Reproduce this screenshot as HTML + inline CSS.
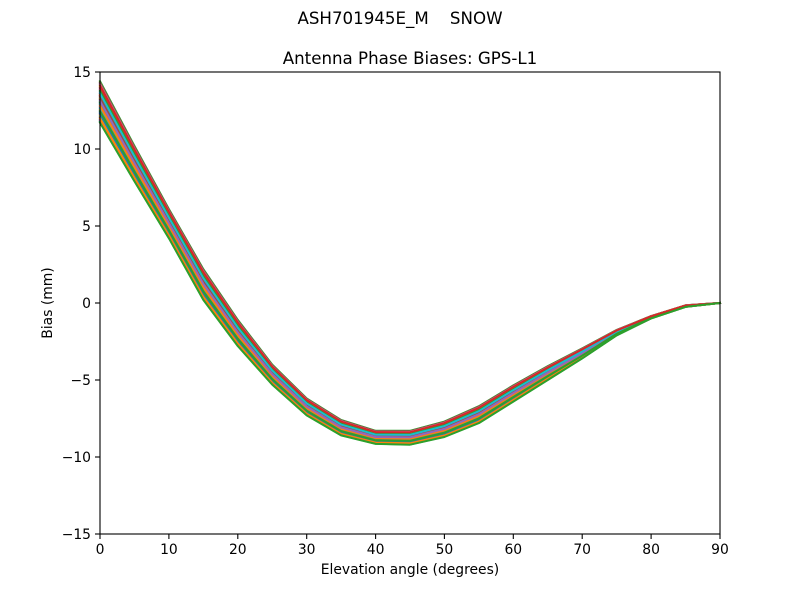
<!DOCTYPE html>
<html><head><meta charset="utf-8"><style>
html,body{margin:0;padding:0;background:#fff;}
svg{display:block;}
text{font-family:"DejaVu Sans","Liberation Sans",sans-serif;fill:#000;}
</style></head><body>
<svg id="s" width="800" height="600" viewBox="0 0 800 600" xmlns="http://www.w3.org/2000/svg">
<rect width="800" height="600" fill="#fff"/>
<text x="400" y="24" font-size="16.67" text-anchor="middle" xml:space="preserve">ASH701945E_M    SNOW</text>
<text x="410" y="64" font-size="16.67" text-anchor="middle">Antenna Phase Biases: GPS-L1</text>
<g id="band"></g>
<g id="lines" fill="none" stroke-width="2" stroke-linejoin="round" stroke-linecap="square"></g>
<rect x="100" y="72" width="620" height="462" fill="none" stroke="#000" stroke-width="1.1"/>
<g stroke="#000" stroke-width="1.1">
<line x1="100" y1="534" x2="100" y2="539"/><line x1="168.9" y1="534" x2="168.9" y2="539"/><line x1="237.8" y1="534" x2="237.8" y2="539"/><line x1="306.7" y1="534" x2="306.7" y2="539"/><line x1="375.6" y1="534" x2="375.6" y2="539"/><line x1="444.4" y1="534" x2="444.4" y2="539"/><line x1="513.3" y1="534" x2="513.3" y2="539"/><line x1="582.2" y1="534" x2="582.2" y2="539"/><line x1="651.1" y1="534" x2="651.1" y2="539"/><line x1="720" y1="534" x2="720" y2="539"/>
<line x1="95" y1="72" x2="100" y2="72"/><line x1="95" y1="149" x2="100" y2="149"/><line x1="95" y1="226" x2="100" y2="226"/><line x1="95" y1="303" x2="100" y2="303"/><line x1="95" y1="380" x2="100" y2="380"/><line x1="95" y1="457" x2="100" y2="457"/><line x1="95" y1="534" x2="100" y2="534"/>
</g>
<g font-size="13.89" text-anchor="middle">
<text x="100" y="554">0</text><text x="168.9" y="554">10</text><text x="237.8" y="554">20</text><text x="306.7" y="554">30</text><text x="375.6" y="554">40</text><text x="444.4" y="554">50</text><text x="513.3" y="554">60</text><text x="582.2" y="554">70</text><text x="651.1" y="554">80</text><text x="720" y="554">90</text>
</g>
<g font-size="13.89" text-anchor="end">
<text x="91" y="77">15</text><text x="91" y="154">10</text><text x="91" y="231">5</text><text x="91" y="308">0</text><text x="91" y="385">−5</text><text x="91" y="462">−10</text><text x="91" y="539">−15</text>
</g>
<text x="410" y="574" font-size="13.89" text-anchor="middle">Elevation angle (degrees)</text>
<text x="0" y="0" font-size="13.89" text-anchor="middle" transform="translate(52,303) rotate(-90)">Bias (mm)</text>
</svg>
<script>
(function(){
var up=[14.4,10.2,6.1,2.2,-1.1,-4.0,-6.2,-7.6,-8.3,-8.3,-7.7,-6.7,-5.35,-4.1,-2.95,-1.75,-0.85,-0.15,0];
var lo=[11.7,7.9,4.2,0.2,-2.8,-5.3,-7.3,-8.6,-9.15,-9.2,-8.7,-7.8,-6.4,-5.0,-3.6,-2.1,-1.0,-0.25,0];
function X(d){return 100+d*620/90;}
function Y(v){return 303-v*462/30;}
var ns="http://www.w3.org/2000/svg";
var band=document.getElementById("band");
var pts=[];
for(var i=0;i<19;i++)pts.push(X(i*5).toFixed(1)+","+Y(up[i]).toFixed(1));
for(var i=18;i>=0;i--)pts.push(X(i*5).toFixed(1)+","+Y(lo[i]).toFixed(1));
var pg=document.createElementNS(ns,"polygon");
pg.setAttribute("points",pts.join(" "));pg.setAttribute("fill","#a08c96");
band.appendChild(pg);
var cols=["#1f77b4","#ff7f0e","#2ca02c","#d62728","#9467bd","#8c564b","#e377c2","#7f7f7f","#bcbd22","#17becf"];
var g=document.getElementById("lines");
var N=62;var seed=11;
function rnd(){seed=(seed*9301+49297)%233280;return seed/233280;}
var ts=[];for(var k=0;k<N;k++)ts.push(k/(N-1));
for(var k=ts.length-1;k>0;k--){var j=Math.floor(rnd()*(k+1));var tmp=ts[k];ts[k]=ts[j];ts[j]=tmp;}
var idx0=ts.indexOf(0);var tmp2=ts[N-1];ts[N-1]=0;ts[idx0]=tmp2;
for(var k=0;k<N;k++){
 var t=ts[k];
 var p=[];
 for(var i=0;i<19;i++){var v=lo[i]+t*(up[i]-lo[i]);p.push(X(i*5).toFixed(1)+","+Y(v).toFixed(1));}
 var pl=document.createElementNS(ns,"polyline");
 pl.setAttribute("points",p.join(" "));
 pl.setAttribute("stroke",k==N-1?"#2ca02c":cols[(k+3)%10]);
 g.appendChild(pl);
}
})();
</script>
</body></html>
